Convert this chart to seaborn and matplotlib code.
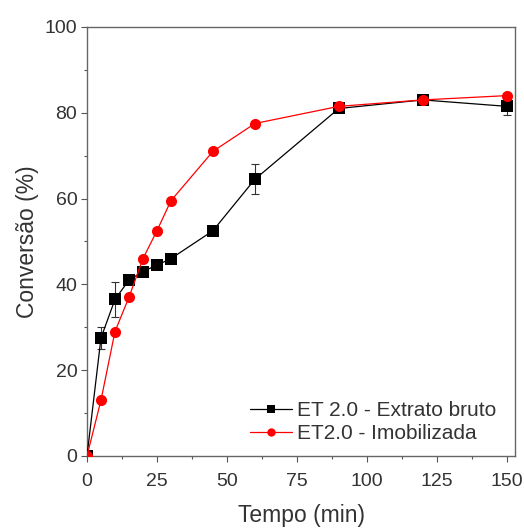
import matplotlib
matplotlib.use("Agg")
import matplotlib.pyplot as plt
import seaborn as sns
import pandas as pd
from matplotlib.ticker import MultipleLocator

time_min = [0, 5, 10, 15, 20, 25, 30, 45, 60, 90, 120, 150]
bruto = [0, 27.5, 36.5, 41, 43, 44.5, 46, 52.5, 64.5, 81, 83, 81.5]
bruto_err = [0, 2.5, 4, 1, 0.5, 0.5, 0.5, 0.5, 3.5, 0.5, 0.5, 2]
imob = [0, 13, 29, 37, 46, 52.5, 59.5, 71, 77.5, 81.5, 83, 84]
label_bruto = "ET 2.0 - Extrato bruto"
label_imob = "ET2.0 - Imobilizada"

df = pd.concat([
    pd.DataFrame({"t": time_min, "c": bruto, "s": label_bruto}),
    pd.DataFrame({"t": time_min, "c": imob, "s": label_imob}),
])

sns.set_style("ticks")
plt.rcParams["font.family"] = ["Liberation Sans", "DejaVu Sans"]
plt.rcParams["text.color"] = "#333333"
plt.rcParams["axes.labelcolor"] = "#333333"
plt.rcParams["xtick.color"] = "#555555"
plt.rcParams["ytick.color"] = "#555555"
plt.rcParams["xtick.labelcolor"] = "#333333"
plt.rcParams["ytick.labelcolor"] = "#333333"

fig = plt.figure(figsize=(5.24, 5.29), dpi=100)
ax = fig.add_axes([0.166, 0.138, 0.817, 0.811])

ax.errorbar(time_min, bruto, yerr=bruto_err, fmt="none", ecolor="#333333",
            elinewidth=0.8, capsize=3, capthick=0.8, zorder=2)
sns.lineplot(data=df, x="t", y="c", hue="s", style="s",
             palette={label_bruto: "black", label_imob: "red"},
             markers={label_bruto: "s", label_imob: "o"}, dashes=False,
             markersize=8, linewidth=0.9, markeredgewidth=0, ax=ax, zorder=3)

ax.set_xlim(0, 153)
ax.set_ylim(0, 100)
ax.xaxis.set_major_locator(MultipleLocator(25))
ax.xaxis.set_minor_locator(MultipleLocator(12.5))
ax.yaxis.set_major_locator(MultipleLocator(20))
ax.yaxis.set_minor_locator(MultipleLocator(10))
ax.tick_params(which="major", length=4, width=0.8, labelsize=14, pad=3)
ax.tick_params(axis="x", which="major", pad=8)
ax.tick_params(which="minor", length=2.5, width=0.8)
for sp in ax.spines.values():
    sp.set_color("#666666")
    sp.set_linewidth(1.0)

ax.set_xlabel("Tempo (min)", fontsize=16.5, labelpad=10)
ax.set_ylabel("Conversão (%)", fontsize=16.5, labelpad=4)

h, l = ax.get_legend_handles_labels()
leg = ax.legend(h, l, loc="lower right", frameon=False, fontsize=15,
                handlelength=2.0, handletextpad=0.25, labelspacing=0.2,
                borderaxespad=0.2, bbox_to_anchor=(0.985, 0.0))
for lh in leg.legend_handles:
    lh.set_markersize(6)

fig.savefig("out.png", dpi=100)
